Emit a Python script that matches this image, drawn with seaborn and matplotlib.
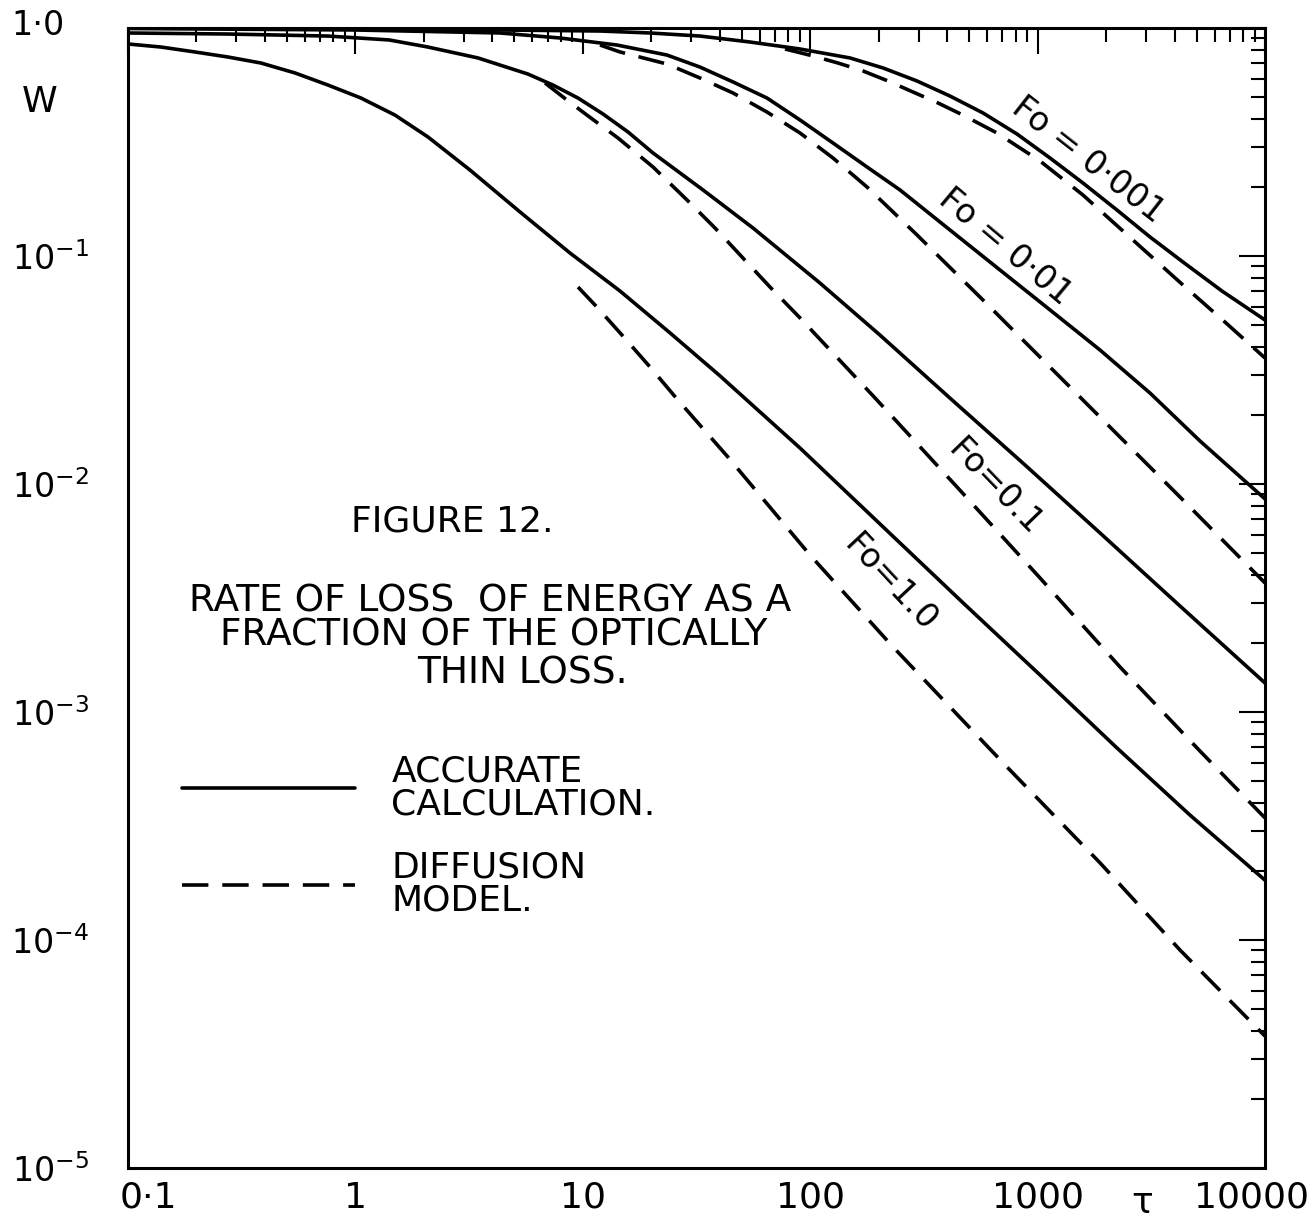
import matplotlib
matplotlib.use("Agg")
import matplotlib.pyplot as plt
import matplotlib.transforms as mtransforms
from matplotlib.lines import Line2D
from matplotlib.ticker import LogLocator, NullFormatter
import seaborn as sns

# values (tau, W), one pair of lists per curve
tau_acc_0001 = [0.1, 1, 11.9, 19.75, 32.76, 54.35, 90.2, 149.6, 209, 294.9, 411.9, 575.3, 811.7,
                1134, 1583, 2235, 3121, 4358, 6470, 10000]
w_acc_0001 = [1.0, 0.995, 0.97, 0.951, 0.922, 0.868, 0.809, 0.739, 0.668, 0.5856, 0.503, 0.424, 0.3428,
              0.269, 0.209, 0.159, 0.1212, 0.0941, 0.0702, 0.0524]
tau_dif_0001 = [77.5, 102.9, 132.6, 170.7, 219.9, 283.1, 364.8, 469.6, 662.9, 1025, 1583, 2627, 4358, 6670, 10000]
w_dif_0001 = [0.809, 0.754, 0.702, 0.648, 0.5856, 0.524, 0.469, 0.415, 0.3463, 0.261, 0.1851, 0.1175,
              0.0746, 0.0513, 0.0357]

tau_acc_001 = [0.1, 1, 4.324, 7.94, 14.14, 23.46, 32.76, 45.76, 64.57, 90.2, 126, 177.8, 248.3, 411.9,
               683.4, 1134, 1881, 3121, 5178, 10000]
w_acc_001 = [0.995, 0.98, 0.951, 0.904, 0.842, 0.761, 0.674, 0.58, 0.493, 0.395, 0.313, 0.2457, 0.1948,
             0.13, 0.0868, 0.058, 0.0387, 0.02506, 0.01544, 0.0086]
tau_dif_001 = [11.9, 14.58, 23.46, 32.76, 45.76, 64.57, 90.2, 126, 177.8, 294.9, 575.3, 1583, 4228, 10000]
w_dif_001 = [0.842, 0.785, 0.695, 0.6035, 0.5187, 0.428, 0.3463, 0.269, 0.2007, 0.1237, 0.0641, 0.02335,
             0.00877, 0.00368]

tau_acc_01 = [0.1, 0.2753, 0.7578, 1.411, 2.086, 3.46, 5.741, 7.396, 9.526, 12.27, 15.8, 20.36, 33.78,
              56.03, 110.4, 202.7, 411.9, 880.2, 1881, 4228, 10000]
w_acc_01 = [0.951, 0.941, 0.922, 0.886, 0.825, 0.739, 0.628, 0.562, 0.493, 0.4196, 0.35, 0.283, 0.1948,
            0.1327, 0.0761, 0.045, 0.0238, 0.01212, 0.0061, 0.002917, 0.00134]
tau_dif_01 = [6.822, 8.52, 10.43, 14.28, 20.36, 28.72, 38.14, 50.13, 66.56, 90.2, 196.6, 442.2, 1025,
              2303, 5178, 10000]
w_dif_01 = [0.574, 0.483, 0.415, 0.3293, 0.2457, 0.1761, 0.1327, 0.099, 0.0731, 0.0535, 0.02335, 0.0097,
            0.00387, 0.001576, 0.000674, 0.000343]

tau_acc_1 = [0.1, 0.1397, 0.197, 0.2753, 0.3845, 0.5427, 0.7578, 1.058, 1.493, 2.086, 3.19, 5.295, 8.78,
             14.58, 24.18, 40.12, 60.15, 90.2, 202.7, 455.8, 1025, 2235, 4680, 10000]
w_acc_1 = [0.851, 0.825, 0.785, 0.746, 0.702, 0.635, 0.562, 0.493, 0.415, 0.3326, 0.2383, 0.156, 0.1031,
           0.0702, 0.046, 0.0298, 0.0207, 0.01438, 0.00668, 0.0031, 0.001453, 0.000695, 0.000353, 0.000183]
tau_dif_1 = [9.526, 11.54, 14.87, 19.75, 25.96, 43.07, 99.8, 231.2, 733.4, 1881, 4228, 10000]
w_dif_1 = [0.0731, 0.0597, 0.045, 0.0326, 0.0236, 0.01327, 0.00488, 0.00193, 0.000574, 0.000218,
           0.0000904, 0.0000379]

x_ticks = [0.1, 1, 10, 100, 1000, 10000]
x_tick_labels = ["0·1", "1", "10", "100", "1000", "10000"]
y_ticks = [1e-5, 1e-4, 1e-3, 1e-2, 1e-1, 1.0]
y_tick_labels = ["$10^{-5}$", "$10^{-4}$", "$10^{-3}$", "$10^{-2}$", "$10^{-1}$", "1·0"]

sns.set_theme(style="white")
plt.rcParams["font.family"] = ["DejaVu Sans"]
plt.rcParams["mathtext.fontset"] = "dejavusans"
plt.rcParams["mathtext.default"] = "regular"
plt.rcParams["lines.scale_dashes"] = False
plt.rcParams["text.color"] = "black"

FS = 26
W_PX, H_PX = 1315, 1227
fig = plt.figure(figsize=(W_PX / 100, H_PX / 100), dpi=100)
fig.patch.set_facecolor("white")
ax = fig.add_axes([128 / W_PX, 1 - 1168 / H_PX, (1265 - 128) / W_PX, (1168 - 28) / H_PX])
ax.set_facecolor("white")

solid = "-"
dashed = (0, (19, 10))
curves = [
    (tau_acc_0001, w_acc_0001, solid), (tau_dif_0001, w_dif_0001, dashed),
    (tau_acc_001, w_acc_001, solid), (tau_dif_001, w_dif_001, dashed),
    (tau_acc_01, w_acc_01, solid), (tau_dif_01, w_dif_01, dashed),
    (tau_acc_1, w_acc_1, solid), (tau_dif_1, w_dif_1, dashed),
]
for tau, w, ls in curves:
    sns.lineplot(x=tau, y=w, ax=ax, color="black", linewidth=2.6,
                 linestyle=ls, sort=False, errorbar=None)

ax.set_xscale("log")
ax.set_yscale("log")
ax.set_xlim(0.1, 10000)
ax.set_ylim(1e-5, 1.0)

ax.set_xticks(x_ticks)
ax.set_xticklabels(x_tick_labels)
ax.set_yticks(y_ticks)
ax.set_yticklabels(y_tick_labels)
for axis in (ax.xaxis, ax.yaxis):
    axis.set_minor_locator(LogLocator(base=10, subs=range(2, 10), numticks=30))
    axis.set_minor_formatter(NullFormatter())

ax.tick_params(which="both", direction="in", top=True, right=True,
               color="black", width=1.5, labelsize=FS, labelcolor="black")
ax.tick_params(axis="y", labelsize=24)
ax.tick_params(which="major", length=19)
ax.tick_params(which="minor", length=10)
ax.tick_params(axis="x", pad=9)
ax.tick_params(axis="y", pad=28)
for sp in ax.spines.values():
    sp.set_color("black")
    sp.set_linewidth(2.2)

# nudge the end labels the way the drawing has them
def shift(label, dx, dy):
    label.set_transform(label.get_transform() +
                        mtransforms.ScaledTranslation(dx / 100, dy / 100, fig.dpi_scale_trans))

xl = ax.get_xticklabels()
shift(xl[0], 20, 0)
shift(xl[-1], -14, 0)
yl = ax.get_yticklabels()
shift(yl[-1], -24, 6)

fig.text(40 / W_PX, 1 - 102 / H_PX, "W", fontsize=FS, ha="center", va="center")
fig.text(1142 / W_PX, 1 - 1203 / H_PX, "τ", fontsize=FS, ha="center", va="center")

# curve labels
fo_labels = [("Fo = 0·001", 1088, 160, -38), ("Fo = 0·01", 1005, 247, -40),
             ("Fo=0.1", 995, 487, -46), ("Fo=1.0", 890, 583, -47)]
for txt, px, py, rot in fo_labels:
    fig.text(px / W_PX, 1 - py / H_PX, txt, fontsize=24, rotation=rot,
             rotation_mode="anchor", ha="center", va="center")

# caption block
fig.text(452 / W_PX, 1 - 521 / H_PX, "FIGURE 12.", fontsize=FS, ha="center", va="center")
fig.text(490 / W_PX, 1 - 601 / H_PX, "RATE OF LOSS  OF ENERGY AS A", fontsize=27, ha="center", va="center")
fig.text(494 / W_PX, 1 - 636 / H_PX, "FRACTION OF THE OPTICALLY", fontsize=27, ha="center", va="center")
fig.text(522 / W_PX, 1 - 673 / H_PX, "THIN LOSS.", fontsize=27, ha="center", va="center")

handles = [Line2D([], [], color="black", linewidth=2.6, linestyle=solid),
           Line2D([], [], color="black", linewidth=2.6, linestyle=dashed)]
leg = ax.legend(handles, ["ACCURATE\nCALCULATION.", "DIFFUSION\nMODEL."],
                loc="upper left", bbox_to_anchor=(182 / W_PX, 1 - 754 / H_PX),
                bbox_transform=fig.transFigure, frameon=False, fontsize=FS,
                handlelength=4.8, handletextpad=1.0, labelspacing=0.8,
                borderpad=0, borderaxespad=0)
for t in leg.get_texts():
    t.set_linespacing(0.97)
    t.set_color("black")

fig.savefig("out.png", dpi=100, facecolor="white")
